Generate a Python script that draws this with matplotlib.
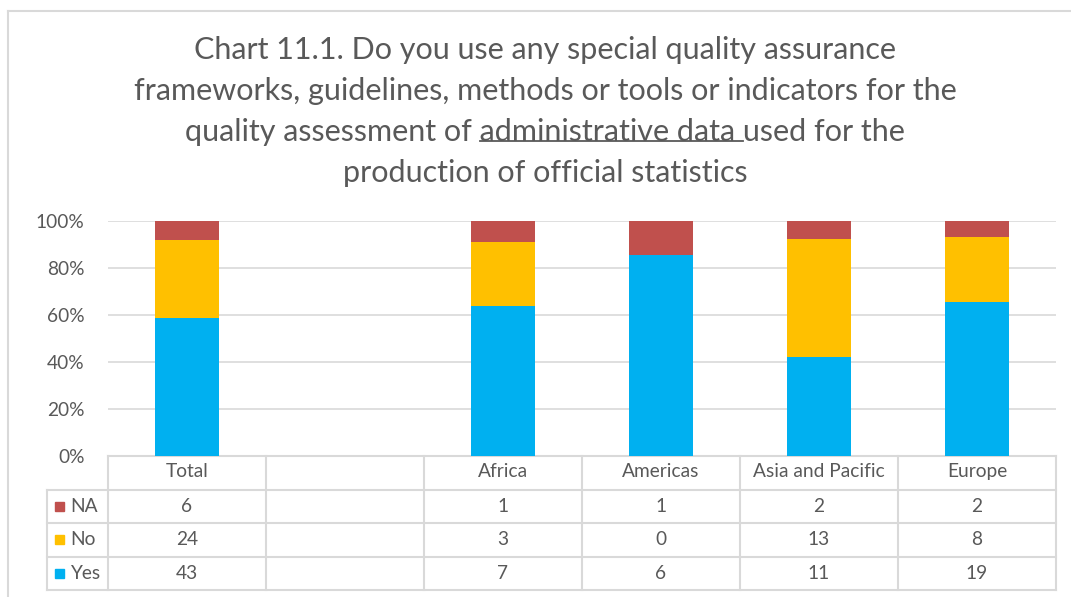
import numpy as np
import matplotlib
matplotlib.use("Agg")
import matplotlib.pyplot as plt
from matplotlib.lines import Line2D
from matplotlib.patches import Rectangle

plt.rcParams['font.family'] = ['Lato', 'DejaVu Sans']

categories = ["Total", "", "Africa", "Americas", "Asia and Pacific", "Europe"]
series_names = ["Yes", "No", "NA"]
yes_vals = [43, np.nan, 7, 6, 11, 19]
no_vals = [24, np.nan, 3, 0, 13, 8]
na_vals = [6, np.nan, 1, 1, 2, 2]
colors = {"Yes": "#00B0F0", "No": "#FFC000", "NA": "#C0504D"}
yticks = [0, 0.2, 0.4, 0.6, 0.8, 1.0]
ytick_labels = ["0%", "20%", "40%", "60%", "80%", "100%"]
title_lines = [
    "Chart 11.1. Do you use any special quality assurance",
    "frameworks, guidelines, methods or tools or indicators for the",
    "quality assessment of administrative data used for the",
    "production of official statistics",
]
underline_prefix = "quality assessment of "
underline_part = "administrative data "

W, H = 1071, 597
fig = plt.figure(figsize=(W / 100, H / 100), dpi=100)
fig.patch.set_facecolor("white")

def fx(px):
    return px / W

def fy(py):
    return 1 - py / H

# outer frame
fig.add_artist(Line2D([fx(8), fx(8)], [fy(11), fy(597)], color="#D9D9D9", lw=1.5))
fig.add_artist(Line2D([fx(8), 1], [fy(11), fy(11)], color="#D9D9D9", lw=1.5))

left, right, top, bottom = 108, 1056, 221, 456
ax = fig.add_axes([fx(left), fy(bottom), fx(right - left), (bottom - top) / H])

small_fs = 13.8
yes = np.array(yes_vals, dtype=float)
no = np.array(no_vals, dtype=float)
na = np.array(na_vals, dtype=float)
tot = yes + no + na
x = np.arange(len(categories))
bw = 0.405
p_yes = yes / tot
p_no = no / tot
p_na = na / tot
ax.bar(x, p_yes, bw, color=colors["Yes"], zorder=3)
ax.bar(x, p_no, bw, bottom=p_yes, color=colors["No"], zorder=3)
ax.bar(x, p_na, bw, bottom=p_yes + p_no, color=colors["NA"], zorder=3)

ax.set_xlim(-0.5, len(categories) - 0.5)
ax.set_ylim(0, 1)
ax.set_yticks(yticks)
ax.set_yticklabels(ytick_labels, color="#595959", fontsize=small_fs)
ax.set_xticks([])
ax.tick_params(axis="y", length=0, pad=17)
for s in ax.spines.values():
    s.set_visible(False)
ax.grid(axis="y", color="#D9D9D9", lw=1.2, zorder=0)
ax.set_axisbelow(True)

# table
row_h = (590 - 456) / 4 / (bottom - top)
gcol = "#D9D9D9"
tcol = "#595959"
leg_x0 = -0.5 - (left - 47) / ((right - left) / len(categories))
n = len(categories)
ys = [0, -row_h, -2 * row_h, -3 * row_h, -4 * row_h]
trans = ax.get_xaxis_transform()
kw = dict(transform=trans, clip_on=False, color=gcol, lw=1.5)
ax.add_line(Line2D([-0.5, n - 0.5], [ys[0], ys[0]], **kw))
for yy in ys[1:]:
    ax.add_line(Line2D([leg_x0, n - 0.5], [yy, yy], **kw))
ax.add_line(Line2D([leg_x0, leg_x0], [ys[1], ys[4]], **kw))
for i in range(n + 1):
    ax.add_line(Line2D([i - 0.5, i - 0.5], [ys[0], ys[4]], **kw))

for i, c in enumerate(categories):
    ax.text(i, (ys[0] + ys[1]) / 2 + 0.005, c, transform=trans, ha="center", va="center",
            fontsize=small_fs, color=tcol, clip_on=False)

rows = [("NA", na), ("No", no), ("Yes", yes)]
for r, (name, vals) in enumerate(rows):
    yc = (ys[r + 1] + ys[r + 2]) / 2
    sq_h = 0.04
    ax.add_patch(Rectangle((leg_x0 + 0.05, yc - sq_h / 2), 0.055, sq_h, transform=trans,
                           color=colors[name], clip_on=False))
    ax.text(leg_x0 + 0.145, yc, name, transform=trans, ha="left", va="center",
            fontsize=small_fs, color=tcol, clip_on=False)
    for i, v in enumerate(vals):
        if np.isnan(v):
            continue
        ax.text(i, yc, f"{int(v)}", transform=trans, ha="center", va="center",
                fontsize=small_fs, color=tcol, clip_on=False)

# title
title_fs = 22
cx = fx(545)
line_y = [50, 91, 132, 173]
texts = []
for t, py in zip(title_lines, line_y):
    texts.append(fig.text(cx, fy(py), t, ha="center", va="center", fontsize=title_fs, color="#595959"))

fig.canvas.draw()
r = fig.canvas.get_renderer()
t3 = texts[2]
bb = t3.get_window_extent(renderer=r)
tmp1 = fig.text(0, 0, underline_prefix, fontsize=title_fs)
tmp2 = fig.text(0, 0, underline_prefix + underline_part, fontsize=title_fs)
w1 = tmp1.get_window_extent(renderer=r).width
w2 = tmp2.get_window_extent(renderer=r).width
tmp1.remove()
tmp2.remove()
x0 = bb.x0 + w1
x1 = bb.x0 + w2
uy = bb.y0 + 5
fig.add_artist(Line2D([x0 / W, x1 / W], [uy / H, uy / H], color="#595959", lw=1.3))

fig.savefig("out.png", dpi=100, facecolor="white")
